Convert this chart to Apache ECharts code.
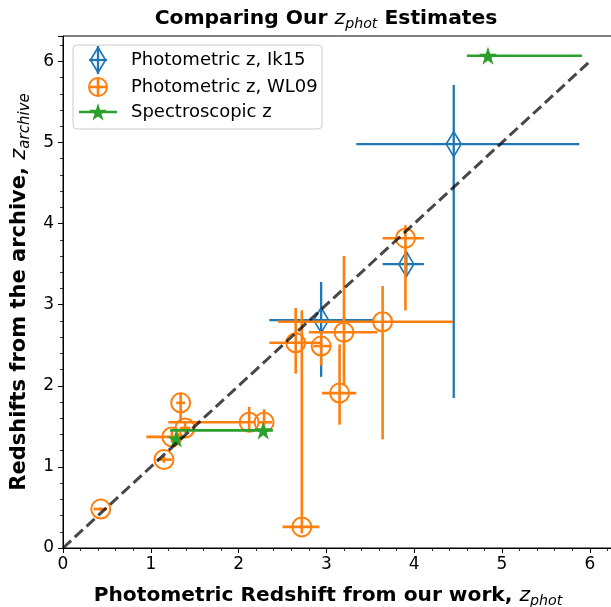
<!DOCTYPE html>
<html><head><meta charset="utf-8">
<script src="https://cdn.jsdelivr.net/npm/echarts@6/dist/echarts.min.js"></script>
<style>html,body{margin:0;padding:0;background:#fff}#c{width:611px;height:607px}</style>
</head><body><div id="c"></div>
<script>
// ---- Data ----
// Photometric z, Ik15
const ik15X   = [4.45, 2.94, 3.91];
const ik15Y   = [4.98, 2.81, 3.50];
const ik15XLo = [3.34, 2.35, 3.64];
const ik15XHi = [5.88, 3.53, 4.11];
const ik15YLo = [1.85, 2.11, 3.35];
const ik15YHi = [5.71, 3.28, 3.65];
// Photometric z, WL09
const wl09X   = [3.90, 3.64, 3.20, 2.94, 2.65, 3.15, 2.72, 1.34, 1.39, 2.12, 2.29, 1.24, 1.15, 0.43];
const wl09Y   = [3.82, 2.79, 2.66, 2.49, 2.53, 1.91, 0.26, 1.79, 1.48, 1.55, 1.55, 1.37, 1.09, 0.48];
const wl09XLo = [3.64, 2.45, 2.80, 2.85, 2.35, 2.95, 2.50, 1.29, 1.33, 1.20, 2.22, 0.95, 1.07, 0.35];
const wl09XHi = [4.11, 4.44, 3.58, 3.04, 2.95, 3.34, 2.92, 1.39, 1.45, 2.18, 2.38, 1.40, 1.24, 0.50];
const wl09YLo = [2.93, 1.34, 2.00, 2.25, 2.15, 1.52, 0.18, 1.56, 1.42, 1.45, 1.45, 1.30, 1.05, 0.46];
const wl09YHi = [3.98, 3.23, 3.60, 2.65, 2.96, 2.51, 2.93, 1.91, 1.55, 1.74, 1.71, 1.45, 1.13, 0.50];
// Spectroscopic z
const specX   = [4.84, 2.28, 1.29];
const specY   = [6.07, 1.45, 1.35];
const specXLo = [4.60, 1.22, 1.29];
const specXHi = [5.91, 2.39, 1.29];
const specYLo = [6.07, 1.45, 1.35];
const specYHi = [6.07, 1.45, 1.35];
// one-to-one line
const diagX = [0, 6];
// axis ticks
const xTicks = [0, 1, 2, 3, 4, 5, 6];
const yTicks = [0, 1, 2, 3, 4, 5, 6];
const seriesNames = ['Photometric z, Ik15', 'Photometric z, WL09', 'Spectroscopic z'];

const BLUE = '#1f77b4', ORANGE = '#ff7f0e', GREEN = '#2ca02c';
const STAR = 'path://M50,0 L61.8,35.1 L98.1,35.1 L68.8,56.8 L79.4,91.2 L50,70 L20.6,91.2 L31.2,56.8 L1.9,35.1 L38.2,35.1 Z';
const FONT = 'DejaVu Sans';

function rows(x, y, xl, xh, yl, yh) {
  return x.map((v, i) => [v, y[i], xl[i], xh[i], yl[i], yh[i]]);
}
function errRender(color, width) {
  return function (params, api) {
    const x = api.value(0), y = api.value(1);
    const a = api.coord([api.value(2), y]), b = api.coord([api.value(3), y]);
    const c = api.coord([x, api.value(4)]), d = api.coord([x, api.value(5)]);
    const ch = [];
    if (Math.abs(b[0] - a[0]) > 0.5) ch.push({type: 'line', shape: {x1: a[0], y1: a[1], x2: b[0], y2: b[1]}, style: {stroke: color, lineWidth: width}});
    if (Math.abs(d[1] - c[1]) > 0.5) ch.push({type: 'line', shape: {x1: c[0], y1: c[1], x2: d[0], y2: d[1]}, style: {stroke: color, lineWidth: width}});
    return {type: 'group', children: ch};
  };
}
function starPoints(cx, cy, R) {
  const pts = [], r = R * 0.382;
  for (let k = 0; k < 10; k++) {
    const ang = -Math.PI / 2 + k * Math.PI / 5;
    const rr = k % 2 === 0 ? R : r;
    pts.push([cx + rr * Math.cos(ang), cy + rr * Math.sin(ang)]);
  }
  return pts;
}
const ik15Rows = rows(ik15X, ik15Y, ik15XLo, ik15XHi, ik15YLo, ik15YHi);
const wl09Rows = rows(wl09X, wl09Y, wl09XLo, wl09XHi, wl09YLo, wl09YHi);
const specRows = rows(specX, specY, specXLo, specXHi, specYLo, specYHi);

const chart = echarts.init(document.getElementById('c'), null, {renderer: 'canvas'});

const legendY = [60, 87, 112];
const txt = (s, y) => ({type: 'text', x: 131, y: y, style: {text: s, fontFamily: FONT, fontSize: 18, fill: '#000', verticalAlign: 'middle', align: 'left'}});
const legendGraphic = {
  type: 'group', z: 100, children: [
    {type: 'rect', shape: {x: 73, y: 45, width: 249, height: 84, r: 4}, style: {fill: 'rgba(255,255,255,0.8)', stroke: '#cccccc', lineWidth: 1}},
    {type: 'line', shape: {x1: 89, y1: legendY[0], x2: 107, y2: legendY[0]}, style: {stroke: BLUE, lineWidth: 2.3}},
    {type: 'line', shape: {x1: 98, y1: legendY[0] - 14, x2: 98, y2: legendY[0] + 14}, style: {stroke: BLUE, lineWidth: 2.3}},
    {type: 'polygon', shape: {points: [[98, legendY[0] - 12.5], [105.5, legendY[0]], [98, legendY[0] + 12.5], [90.5, legendY[0]]]}, style: {fill: 'none', stroke: BLUE, lineWidth: 1.7}},
    {type: 'line', shape: {x1: 89, y1: legendY[1], x2: 107, y2: legendY[1]}, style: {stroke: ORANGE, lineWidth: 2.6}},
    {type: 'line', shape: {x1: 98, y1: legendY[1] - 9, x2: 98, y2: legendY[1] + 9}, style: {stroke: ORANGE, lineWidth: 2.6}},
    {type: 'circle', shape: {cx: 98, cy: legendY[1], r: 9}, style: {fill: 'none', stroke: ORANGE, lineWidth: 2}},
    {type: 'line', shape: {x1: 79, y1: legendY[2], x2: 117, y2: legendY[2]}, style: {stroke: GREEN, lineWidth: 2.6}},
    {type: 'polygon', shape: {points: starPoints(98, legendY[2] + 0.8, 9.5)}, style: {fill: GREEN}},
    txt(seriesNames[0], legendY[0]),
    txt(seriesNames[1], legendY[1]),
    txt(seriesNames[2], legendY[2])
  ]
};

function richSet(sz, subSz, lh, pad) {
  return {
    b: {fontFamily: FONT, fontWeight: 'bold', fontSize: sz, color: '#000', lineHeight: lh},
    i: {fontFamily: FONT, fontWeight: 'normal', fontStyle: 'italic', fontSize: sz, color: '#000', lineHeight: lh},
    s: {fontFamily: FONT, fontWeight: 'normal', fontStyle: 'italic', fontSize: subSz, color: '#000', lineHeight: lh, padding: [pad, 0, 0, 0]}
  };
}

const option = {
  animation: false,
  backgroundColor: '#fff',
  textStyle: {fontFamily: FONT},
  title: [
    {
      text: '{b|Comparing Our }{i|z}{s|phot}{b| Estimates}',
      left: 321, top: 2, textAlign: 'center',
      textStyle: {fontWeight: 'normal', rich: richSet(20.3, 14.2, 24, 10)}
    },
    {
      text: '{b|Photometric Redshift from our work, }{i|z}{s|phot}',
      left: 323, top: 579, textAlign: 'center',
      textStyle: {fontWeight: 'normal', rich: richSet(20.2, 14.2, 24, 10)}
    }
  ],
  grid: {left: 63, right: -2, top: 36, bottom: 59, outerBoundsMode: 'none', containLabel: false,
    show: true, borderColor: '#000', borderWidth: 1, backgroundColor: 'transparent'},
  xAxis: {
    type: 'value', min: 0, max: 6.264, interval: 1,
    axisLine: {show: true, lineStyle: {color: '#000', width: 1}},
    axisTick: {show: true, inside: false, length: 5, lineStyle: {color: '#000', width: 1}},
    minorTick: {show: true, splitNumber: 5, length: 3, lineStyle: {color: '#000', width: 0.8}},
    splitLine: {show: false},
    axisLabel: {fontFamily: FONT, fontSize: 17, color: '#000', margin: 8,
      formatter: v => xTicks.includes(Math.round(v * 1000) / 1000) ? String(v) : ''}
  },
  yAxis: {
    type: 'value', min: 0, max: 6.313, interval: 1,
    axisLine: {show: true, lineStyle: {color: '#000', width: 1}},
    axisTick: {show: true, inside: false, length: 5, lineStyle: {color: '#000', width: 1}},
    minorTick: {show: true, splitNumber: 5, length: 3, lineStyle: {color: '#000', width: 0.8}},
    splitLine: {show: false},
    axisLabel: {fontFamily: FONT, fontSize: 17, color: '#000', margin: 9,
      formatter: v => yTicks.includes(Math.round(v * 1000) / 1000) ? String(v) : ''},
    name: '{b|Redshifts from the archive, }{i|z}{s|archive}',
    nameLocation: 'middle', nameRotate: 90, nameGap: 30,
    nameTextStyle: {fontWeight: 'normal', rich: richSet(21, 15, 24, 10)}
  },
  graphic: [legendGraphic],
  series: [
    {type: 'custom', name: seriesNames[0] + ' err', z: 2, data: ik15Rows, encode: {x: 0, y: 1}, renderItem: errRender(BLUE, 2.3), silent: true},
    {type: 'scatter', name: seriesNames[0], z: 3, data: ik15Rows.map(r => [r[0], r[1]]), symbol: 'diamond', symbolSize: [15, 25],
      itemStyle: {color: 'rgba(0,0,0,0)', borderColor: BLUE, borderWidth: 1.7, opacity: 1}},
    {type: 'custom', name: seriesNames[1] + ' err', z: 4, data: wl09Rows, encode: {x: 0, y: 1}, renderItem: errRender(ORANGE, 2.6), silent: true},
    {type: 'scatter', name: seriesNames[1], z: 5, data: wl09Rows.map(r => [r[0], r[1]]), symbol: 'circle', symbolSize: 19,
      itemStyle: {color: 'rgba(0,0,0,0)', borderColor: ORANGE, borderWidth: 2, opacity: 1}},
    {type: 'custom', name: seriesNames[2] + ' err', z: 6, data: specRows, encode: {x: 0, y: 1}, renderItem: errRender(GREEN, 2.6), silent: true},
    {type: 'scatter', name: seriesNames[2], z: 7, data: specRows.map(r => [r[0], r[1]]), symbol: STAR, symbolSize: 18,
      itemStyle: {color: GREEN, opacity: 1}},
    {type: 'line', name: 'one-to-one', z: 8, data: diagX.map(v => [v, v]), symbol: 'none', silent: true,
      lineStyle: {color: 'rgba(0,0,0,0.72)', width: 3, type: [11, 5]}}
  ]
};
chart.setOption(option);
</script>
</body></html>
